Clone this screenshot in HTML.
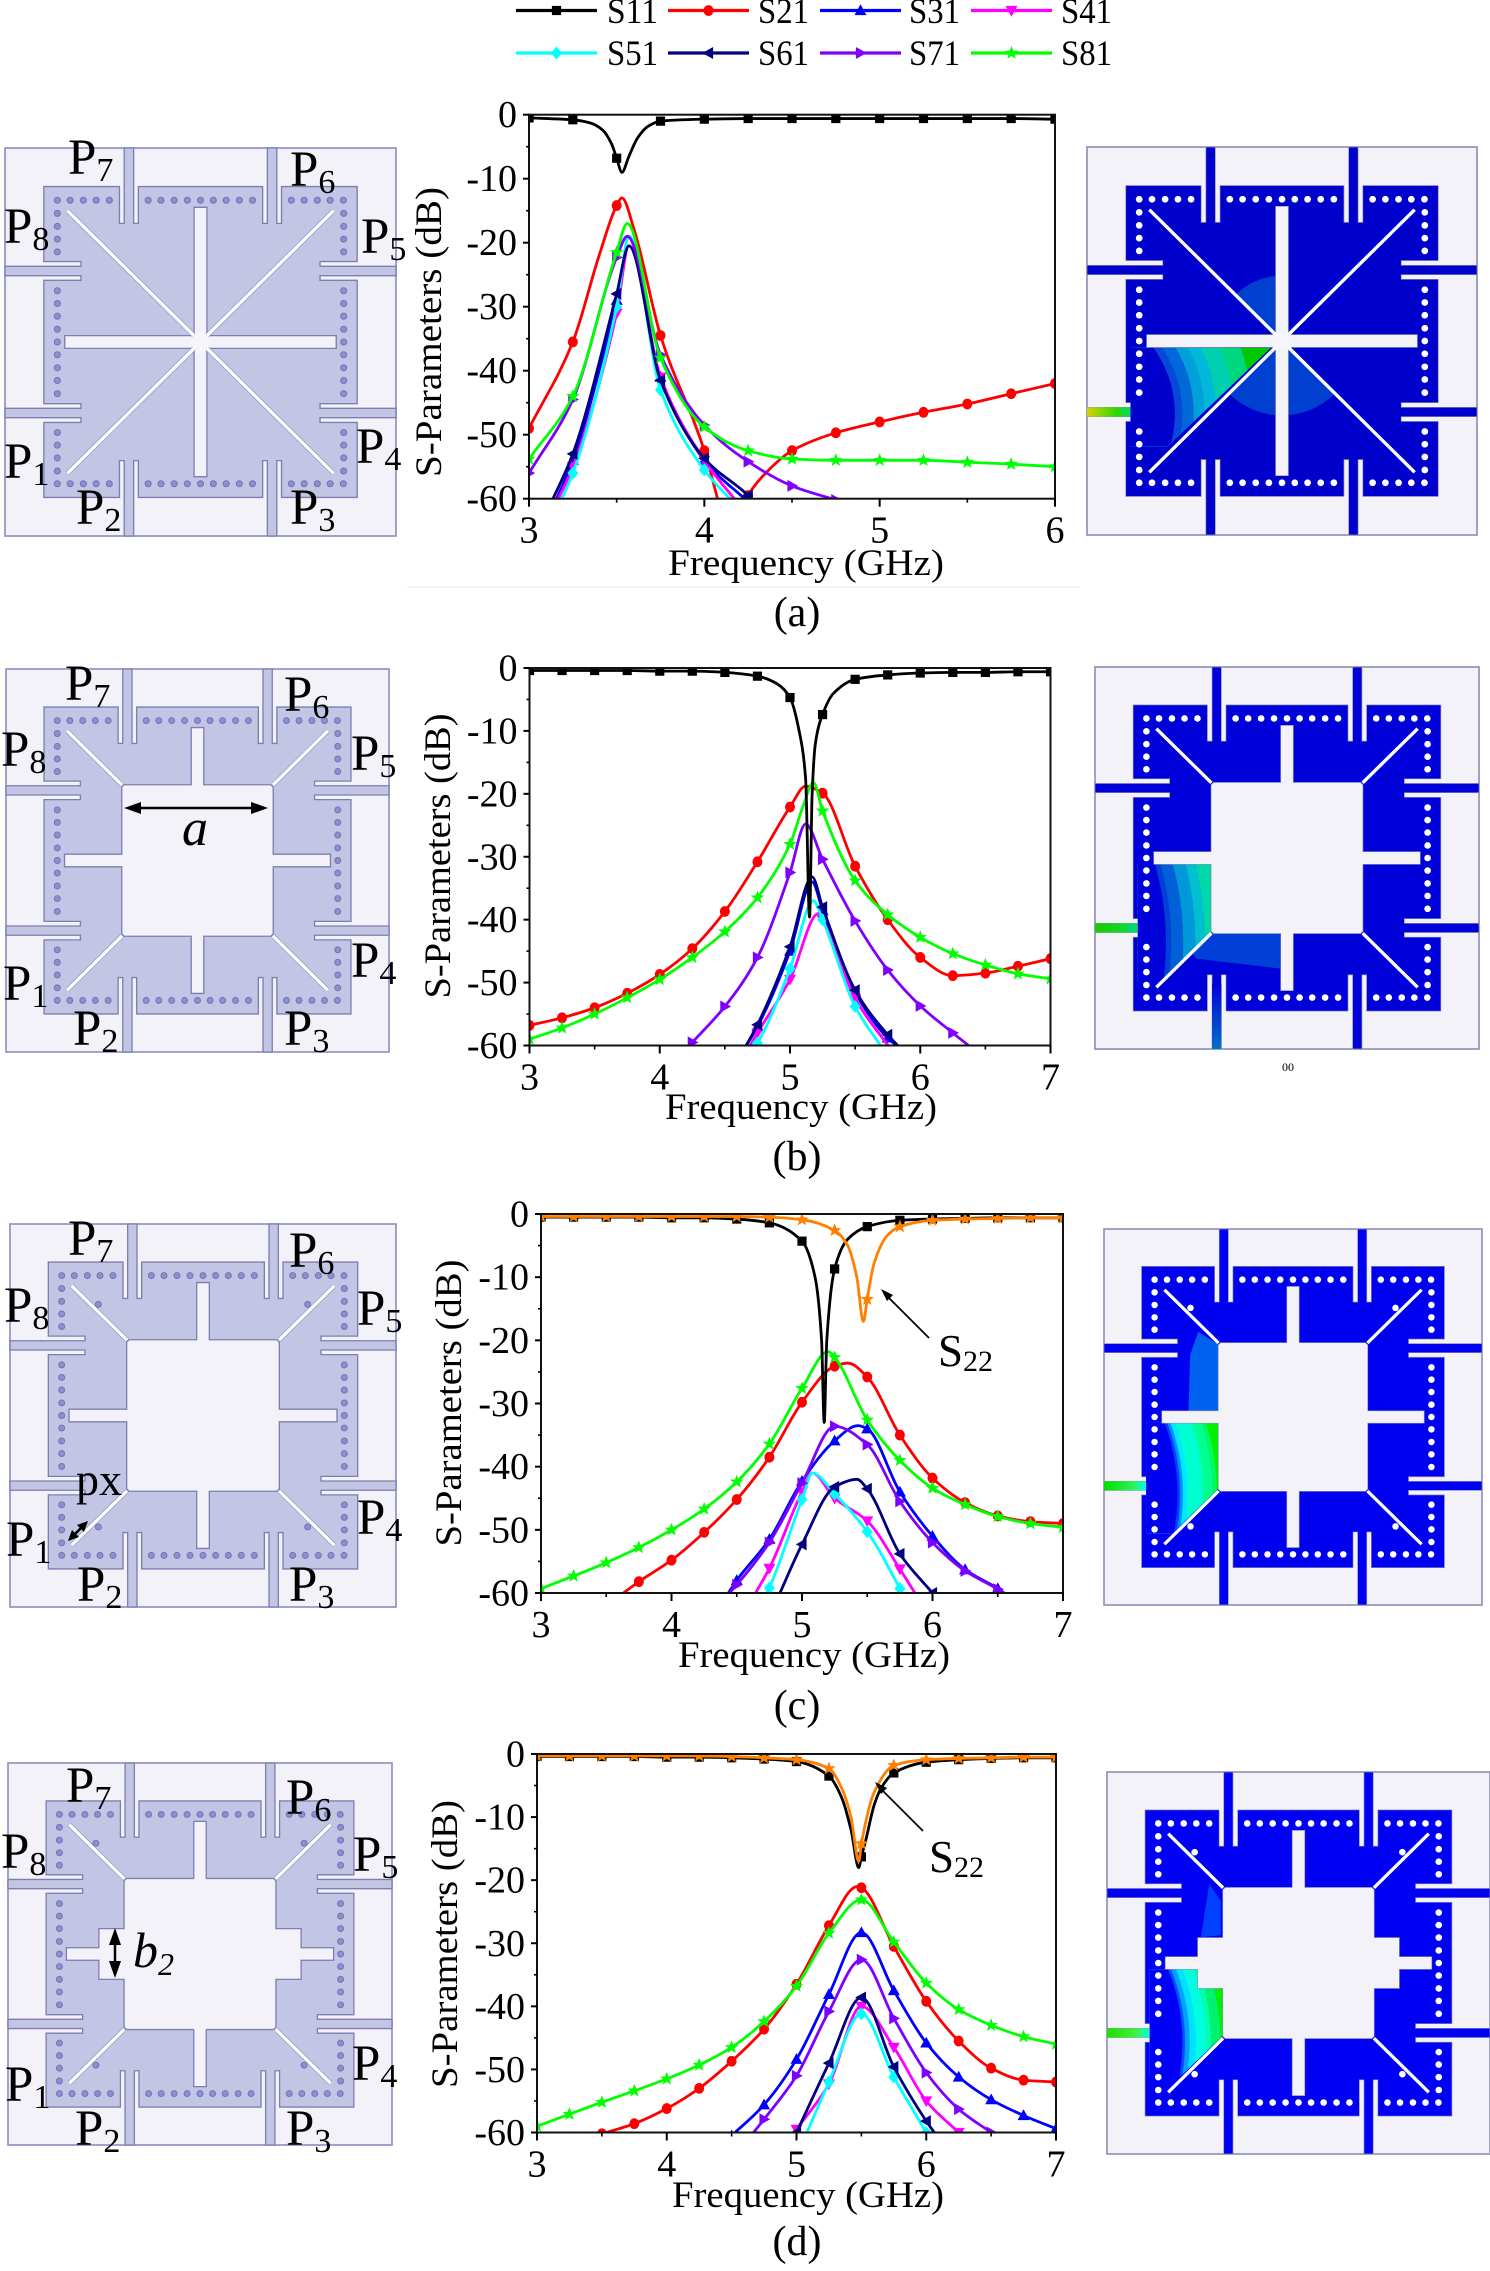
<!DOCTYPE html>
<html lang="en">
<head>
<meta charset="utf-8">
<title>Eight-port resonator designs and S-parameters</title>
<style>
html,body{margin:0;padding:0;background:#fff;width:1490px;height:2271px;overflow:hidden}
svg{display:block}
text{font-family:"Liberation Serif",serif;fill:#000}
</style>
</head>
<body>
<svg id="page" xmlns="http://www.w3.org/2000/svg" width="1490" height="2271" viewBox="0 0 1490 2271">
  <rect x="0" y="0" width="1490" height="2271" fill="#ffffff"/>
  <g id="diagrams"></g>
  <g id="charts"></g>
  <g id="legend">
    <text x="607" y="23" font-size="36" textLength="51" lengthAdjust="spacingAndGlyphs">S11</text>
    <text x="758" y="23" font-size="36" textLength="51" lengthAdjust="spacingAndGlyphs">S21</text>
    <text x="909" y="23" font-size="36" textLength="51" lengthAdjust="spacingAndGlyphs">S31</text>
    <text x="1061" y="23" font-size="36" textLength="51" lengthAdjust="spacingAndGlyphs">S41</text>
    <text x="607" y="65" font-size="36" textLength="51" lengthAdjust="spacingAndGlyphs">S51</text>
    <text x="758" y="65" font-size="36" textLength="51" lengthAdjust="spacingAndGlyphs">S61</text>
    <text x="909" y="65" font-size="36" textLength="51" lengthAdjust="spacingAndGlyphs">S71</text>
    <text x="1061" y="65" font-size="36" textLength="51" lengthAdjust="spacingAndGlyphs">S81</text>
  </g>

  <line x1="407" y1="587" x2="1079" y2="587" stroke="#eeeeee" stroke-width="1.5"/>

  <text x="797" y="626" font-size="42" text-anchor="middle">(a)</text>
  <text x="797" y="1170" font-size="42" text-anchor="middle">(b)</text>
  <text x="797" y="1719" font-size="42" text-anchor="middle">(c)</text>
  <text x="797" y="2255" font-size="42" text-anchor="middle">(d)</text>

  <text x="1288" y="1071" font-size="12" text-anchor="middle">00</text>

  <g>
    <line x1="135" y1="808" x2="258" y2="808" stroke="#000" stroke-width="2.5"/>
    <polygon points="124,808 141,802 141,814" fill="#000"/>
    <polygon points="268,808 251,802 251,814" fill="#000"/>
    <text x="182" y="845" font-size="52" font-style="italic">a</text>
  </g>
  <g>
    <line x1="72" y1="1537" x2="84" y2="1525" stroke="#000" stroke-width="2.5"/>
    <polygon points="68,1541 72,1530 79,1537" fill="#000"/>
    <polygon points="88,1521 84,1532 77,1525" fill="#000"/>
    <text x="76" y="1495" font-size="46">px</text>
  </g>
  <g>
    <line x1="115" y1="1940" x2="115" y2="1966" stroke="#000" stroke-width="2.5"/>
    <polygon points="115,1928 109,1945 121,1945" fill="#000"/>
    <polygon points="115,1978 109,1961 121,1961" fill="#000"/>
    <text x="133" y="1967" font-size="50" font-style="italic">b<tspan dy="8" font-size="32">2</tspan></text>
  </g>

  <g>
    <line x1="929" y1="1338" x2="886" y2="1295" stroke="#000" stroke-width="1.8"/>
    <polygon points="881,1289 893,1295 887,1301" fill="#000"/>
    <text x="938" y="1366" font-size="45">S<tspan dy="5" font-size="30">22</tspan></text>
  </g>
  <g>
    <line x1="923" y1="1831" x2="880" y2="1788" stroke="#000" stroke-width="1.8"/>
    <polygon points="875,1782 887,1788 881,1794" fill="#000"/>
    <text x="929" y="1872" font-size="45">S<tspan dy="5" font-size="30">22</tspan></text>
  </g>
</svg>

<script>
// ---------- Chart (a) data: frequency (GHz) and magnitude (dB) ----------
const aXTicks = [3, 4, 5, 6];
const aYTicks = [0, -10, -20, -30, -40, -50, -60];
const aS11F = [3, 3.25, 3.35, 3.42, 3.47, 3.5, 3.53, 3.57, 3.62, 3.68, 3.75, 4, 4.25, 4.5, 4.75, 5, 5.25, 5.5, 5.75, 6];
const aS11DB = [-0.5, -0.8, -1.3, -2.4, -4.5, -6.8, -9, -6.5, -3.6, -1.8, -1, -0.7, -0.6, -0.6, -0.6, -0.6, -0.6, -0.6, -0.6, -0.7];
const aS21F = [3, 3.25, 3.4, 3.5, 3.53, 3.6, 3.75, 4, 4.08, 4.15, 4.22, 4.25, 4.35, 4.5, 4.75, 5, 5.25, 5.5, 5.75, 6];
const aS21DB = [-49, -35.5, -22, -14.2, -13, -18, -34.5, -52.5, -60.5, -68, -61.5, -59.5, -56, -52.5, -49.7, -48, -46.5, -45.2, -43.6, -42];
const aS31F = [3.15, 3.25, 3.5, 3.57, 3.75, 4, 4.25];
const aS31DB = [-60.5, -54, -29, -20.5, -41, -54, -60.5];
const aS41F = [3.15, 3.25, 3.5, 3.57, 3.75, 4, 4.2];
const aS41DB = [-61, -55, -31, -20.5, -41, -54, -61];
const aS51F = [3.17, 3.25, 3.5, 3.57, 3.75, 4, 4.18];
const aS51DB = [-61, -56, -30, -19, -43, -55.5, -61];
const aS61F = [3.12, 3.25, 3.5, 3.57, 3.75, 4, 4.25, 4.3];
const aS61DB = [-61, -53, -28, -20.5, -41.5, -53.7, -59.5, -61];
const aS71F = [3, 3.25, 3.5, 3.56, 3.75, 4, 4.25, 4.5, 4.75];
const aS71DB = [-56, -44.5, -22.3, -19, -37.5, -48.5, -54.2, -58, -60.2];
const aS81F = [3, 3.25, 3.5, 3.56, 3.75, 4, 4.25, 4.5, 4.75, 5, 5.25, 5.5, 5.75, 6];
const aS81DB = [-53.8, -44, -21.5, -17, -38, -48.8, -52.5, -53.8, -54, -54, -54, -54.3, -54.6, -55];

// ---------- Chart (b) data ----------
const bXTicks = [3, 4, 5, 6, 7];
const bYTicks = [0, -10, -20, -30, -40, -50, -60];
const bS11F = [3, 3.25, 3.5, 3.75, 4, 4.25, 4.5, 4.75, 4.9, 5, 5.07, 5.12, 5.15, 5.17, 5.195, 5.25, 5.335, 5.5, 5.75, 6, 6.25, 6.5, 6.75, 7];
const bS11DB = [-0.4, -0.4, -0.4, -0.4, -0.5, -0.5, -0.7, -1.3, -2.5, -4.7, -10, -17.6, -39.6, -20, -12, -7.4, -4, -1.8, -1.1, -0.8, -0.7, -0.7, -0.6, -0.6];
const bS21F = [3, 3.25, 3.5, 3.75, 4, 4.25, 4.5, 4.75, 5, 5.12, 5.25, 5.5, 5.75, 6, 6.25, 6.5, 6.75, 7];
const bS21DB = [-56.8, -55.6, -54, -51.7, -48.7, -44.6, -38.7, -30.8, -22.1, -18.8, -19.9, -31.5, -40, -46, -48.9, -48.5, -47.4, -46.2];
const bS31F = [4.65, 4.75, 5, 5.17, 5.25, 5.5, 5.75, 5.85];
const bS31DB = [-60.5, -57, -45, -34, -38.5, -51.5, -58.8, -60.5];
const bS41F = [4.68, 4.75, 5, 5.22, 5.25, 5.5, 5.77];
const bS41DB = [-60.5, -58, -49.5, -39, -40, -52.5, -60.5];
const bS51F = [4.7, 4.75, 5, 5.18, 5.25, 5.5, 5.7];
const bS51DB = [-61, -59.6, -47.8, -37, -40, -53.8, -60.2];
const bS61F = [4.65, 4.75, 5, 5.17, 5.25, 5.5, 5.75, 5.85];
const bS61DB = [-60.5, -56.7, -44.3, -33.2, -38, -51.2, -58.3, -60.5];
const bS71F = [4.25, 4.5, 4.75, 5, 5.12, 5.25, 5.5, 5.75, 6, 6.25, 6.42];
const bS71DB = [-59.5, -53.8, -46, -32.5, -24.8, -30.4, -40.2, -48, -53.7, -58, -60.8];
const bS81F = [3, 3.25, 3.5, 3.75, 4, 4.25, 4.5, 4.75, 5, 5.1, 5.18, 5.25, 5.5, 5.75, 6, 6.25, 6.5, 6.75, 7];
const bS81DB = [-59, -57.2, -55, -52.4, -49.5, -46, -41.9, -36.5, -28, -22, -18.2, -22.7, -33.8, -39.2, -42.8, -45.4, -47.2, -48.6, -49.4];

// ---------- Chart (c) data ----------
const cXTicks = [3, 4, 5, 6, 7];
const cYTicks = [0, -10, -20, -30, -40, -50, -60];
const cS11F = [3, 3.25, 3.5, 3.75, 4, 4.25, 4.5, 4.75, 5, 5.1, 5.15, 5.17, 5.19, 5.25, 5.35, 5.5, 5.75, 6, 6.25, 6.5, 6.75, 7];
const cS11DB = [-0.5, -0.5, -0.5, -0.5, -0.6, -0.6, -0.8, -1.4, -4.3, -10, -20, -33, -20, -8.7, -4, -2, -1, -0.8, -0.7, -0.6, -0.6, -0.6];
const cS22F = [3, 3.25, 3.5, 3.75, 4, 4.25, 4.5, 4.75, 5, 5.25, 5.35, 5.42, 5.47, 5.5, 5.55, 5.65, 5.75, 6, 6.25, 6.5, 6.75, 7];
const cS22DB = [-0.4, -0.4, -0.4, -0.4, -0.4, -0.4, -0.4, -0.5, -0.9, -2.6, -5, -10, -17, -13.5, -8, -3.5, -2, -1, -0.8, -0.7, -0.6, -0.6];
const cS21F = [3.6, 3.75, 4, 4.25, 4.5, 4.75, 5, 5.25, 5.35, 5.5, 5.75, 6, 6.25, 6.5, 6.75, 7];
const cS21DB = [-60.5, -58.2, -54.8, -50.4, -45.2, -38.5, -29.8, -24.1, -23.6, -25.8, -35, -41.8, -45.7, -47.8, -48.7, -49];
const cS31F = [4.42, 4.5, 4.75, 5, 5.25, 5.43, 5.5, 5.75, 6, 6.25, 6.5, 6.6];
const cS31DB = [-60.5, -58, -51.5, -42.3, -35.9, -33.5, -34, -44, -51, -56.3, -59.3, -60.8];
const cS41F = [4.63, 4.75, 5, 5.08, 5.25, 5.5, 5.75, 5.88];
const cS41DB = [-60.5, -56.1, -44, -41, -45, -48.6, -56.2, -60.5];
const cS51F = [4.72, 4.75, 5, 5.08, 5.25, 5.5, 5.75, 5.78];
const cS51DB = [-60.5, -59.2, -45.2, -41, -44.3, -50.3, -59.3, -60.5];
const cS61F = [4.82, 5, 5.25, 5.42, 5.5, 5.75, 6, 6.02];
const cS61DB = [-60.5, -52.3, -43.2, -42, -43.5, -53.8, -60, -60.5];
const cS71F = [4.42, 4.5, 4.75, 5, 5.25, 5.5, 5.75, 6, 6.25, 6.5, 6.6];
const cS71DB = [-60.5, -58.7, -52, -42.6, -33.6, -36.5, -45.5, -52, -56.5, -59.4, -60.8];
const cS81F = [3, 3.25, 3.5, 3.75, 4, 4.25, 4.5, 4.75, 5, 5.2, 5.25, 5.5, 5.75, 6, 6.25, 6.5, 6.75, 7];
const cS81DB = [-59.3, -57.3, -55.2, -52.8, -50, -46.7, -42.4, -36.4, -27.6, -21.8, -22.7, -32.6, -39, -43.4, -46, -47.9, -49, -49.6];

// ---------- Chart (d) data ----------
const dXTicks = [3, 4, 5, 6, 7];
const dYTicks = [0, -10, -20, -30, -40, -50, -60];
const dS11F = [3, 3.25, 3.5, 3.75, 4, 4.25, 4.5, 4.75, 5, 5.25, 5.35, 5.42, 5.48, 5.5, 5.53, 5.6, 5.65, 5.75, 6, 6.25, 6.5, 6.75, 7];
const dS11DB = [-0.4, -0.4, -0.4, -0.4, -0.5, -0.5, -0.6, -0.8, -1.2, -3.5, -7, -12, -18, -16.3, -14, -8, -5.5, -3, -1.3, -0.9, -0.7, -0.6, -0.6];
const dS22F = [3, 3.25, 3.5, 3.75, 4, 4.25, 4.5, 4.75, 5, 5.25, 5.35, 5.42, 5.48, 5.5, 5.6, 5.75, 6, 6.25, 6.5, 6.75, 7];
const dS22DB = [-0.3, -0.3, -0.3, -0.3, -0.3, -0.3, -0.4, -0.6, -0.9, -2.3, -5.5, -10, -17, -14.2, -6, -1.8, -0.9, -0.7, -0.6, -0.5, -0.5];
const dS21F = [3.5, 3.75, 4, 4.25, 4.5, 4.75, 5, 5.25, 5.47, 5.5, 5.75, 6, 6.25, 6.5, 6.75, 7];
const dS21DB = [-60.2, -58.6, -56.2, -53, -48.7, -43.6, -36.5, -27.2, -21, -21.2, -30.5, -39.2, -45.5, -49.8, -51.7, -52];
const dS31F = [4.5, 4.75, 5, 5.25, 5.5, 5.75, 6, 6.25, 6.5, 6.75, 7];
const dS31DB = [-60.5, -55.6, -48.4, -38.1, -28.3, -37.5, -45.8, -51.2, -54.8, -57.3, -59.4];
const dS41F = [5, 5.25, 5.5, 5.75, 6, 6.25];
const dS41DB = [-59.5, -52.3, -40, -46.5, -55, -60];
const dS51F = [5.07, 5.25, 5.5, 5.75, 6];
const dS51DB = [-60.5, -52, -41.2, -51.2, -60];
const dS61F = [5, 5.25, 5.5, 5.75, 6, 6.08];
const dS61DB = [-60, -49, -38.6, -49.6, -58.2, -60.5];
const dS71F = [4.65, 4.75, 5, 5.25, 5.5, 5.75, 6, 6.25, 6.5];
const dS71DB = [-60.5, -57.9, -51, -40.8, -32.6, -41.9, -50.5, -56.3, -60];
const dS81F = [3, 3.25, 3.5, 3.75, 4, 4.25, 4.5, 4.75, 5, 5.25, 5.5, 5.75, 6, 6.25, 6.5, 6.75, 7];
const dS81DB = [-59, -57.1, -55.2, -53.4, -51.5, -49.3, -46.5, -42.4, -36.8, -28.4, -23.1, -29.8, -36.3, -40.5, -43, -44.8, -46];

const NS = 'http://www.w3.org/2000/svg';
function make(tag, parent, attrs) {
  const el = document.createElementNS(NS, tag);
  for (const k in attrs) el.setAttribute(k, attrs[k]);
  parent.appendChild(el);
  return el;
}

// ---------- Marker glyphs ----------
const markerPaths = {
  square: 'M-4.6,-4.6H4.6V4.6H-4.6Z',
  circle: 'M-5,0A5,5.4 0 1 1 5,0A5,5.4 0 1 1 -5,0Z',
  up: 'M0,-6.2L6,4.6H-6Z',
  down: 'M0,6.2L6,-4.6H-6Z',
  diamond: 'M0,-6.5L5.5,0L0,6.5L-5.5,0Z',
  left: 'M-6.2,0L4.6,-6V6Z',
  right: 'M6.2,0L-4.6,-6V6Z',
  star: 'M0,-7L1.9,-2.3L6.7,-2.2L2.9,0.9L4.2,5.7L0,3L-4.2,5.7L-2.9,0.9L-6.7,-2.2L-1.9,-2.3Z'
};
const seriesStyle = {
  S11: {color: '#000000', marker: 'square'},
  S21: {color: '#ff0000', marker: 'circle'},
  S31: {color: '#0000ff', marker: 'up'},
  S41: {color: '#ff00ff', marker: 'down'},
  S51: {color: '#00ffff', marker: 'diamond'},
  S61: {color: '#000080', marker: 'left'},
  S71: {color: '#8000ff', marker: 'right'},
  S81: {color: '#00ff00', marker: 'star'},
  S22: {color: '#ff8000', marker: 'star'}
};

// ---------- Chart definitions ----------
const charts = [
  {id: 'a', x: 529, y: 114.7, w: 526, h: 384, xMin: 3, xMax: 6, xTicks: aXTicks, yTicks: aYTicks,
   freqX: 806, freqBase: 575, freqLen: 276, titleX: 441, titleY: 332, titleLen: 290,
   series: [['S21', aS21F, aS21DB], ['S31', aS31F, aS31DB], ['S41', aS41F, aS41DB], ['S51', aS51F, aS51DB], ['S61', aS61F, aS61DB], ['S71', aS71F, aS71DB], ['S81', aS81F, aS81DB], ['S11', aS11F, aS11DB]]},
  {id: 'b', x: 529.5, y: 668, w: 521, h: 377.5, xMin: 3, xMax: 7, xTicks: bXTicks, yTicks: bYTicks,
   freqX: 801, freqBase: 1119, freqLen: 272, titleX: 450, titleY: 856, titleLen: 285,
   series: [['S21', bS21F, bS21DB], ['S31', bS31F, bS31DB], ['S41', bS41F, bS41DB], ['S51', bS51F, bS51DB], ['S61', bS61F, bS61DB], ['S71', bS71F, bS71DB], ['S81', bS81F, bS81DB], ['S11', bS11F, bS11DB]]},
  {id: 'c', x: 541, y: 1214, w: 522, h: 379, xMin: 3, xMax: 7, xTicks: cXTicks, yTicks: cYTicks,
   freqX: 814, freqBase: 1667, freqLen: 272, titleX: 461, titleY: 1403, titleLen: 287,
   series: [['S21', cS21F, cS21DB], ['S31', cS31F, cS31DB], ['S41', cS41F, cS41DB], ['S51', cS51F, cS51DB], ['S61', cS61F, cS61DB], ['S71', cS71F, cS71DB], ['S81', cS81F, cS81DB], ['S11', cS11F, cS11DB], ['S22', cS22F, cS22DB]]},
  {id: 'd', x: 537, y: 1754, w: 519, h: 378.5, xMin: 3, xMax: 7, xTicks: dXTicks, yTicks: dYTicks,
   freqX: 808, freqBase: 2207, freqLen: 272, titleX: 457, titleY: 1944, titleLen: 288,
   series: [['S21', dS21F, dS21DB], ['S31', dS31F, dS31DB], ['S41', dS41F, dS41DB], ['S51', dS51F, dS51DB], ['S61', dS61F, dS61DB], ['S71', dS71F, dS71DB], ['S81', dS81F, dS81DB], ['S11', dS11F, dS11DB], ['S22', dS22F, dS22DB]]}
];

// Monotone cubic path through the data points (no overshoot at resonances).
function monotonePath(xs, ys) {
  const n = xs.length;
  if (n < 2) return '';
  const dx = [], m = [], t = [];
  for (let i = 0; i < n - 1; i++) {
    dx.push(xs[i + 1] - xs[i]);
    m.push((ys[i + 1] - ys[i]) / dx[i]);
  }
  t.push(m[0]);
  for (let i = 1; i < n - 1; i++) {
    if (m[i - 1] * m[i] <= 0) t.push(0);
    else {
      const w1 = 2 * dx[i] + dx[i - 1], w2 = dx[i] + 2 * dx[i - 1];
      t.push((w1 + w2) / (w1 / m[i - 1] + w2 / m[i]));
    }
  }
  t.push(m[n - 2]);
  let d = 'M' + xs[0].toFixed(2) + ',' + ys[0].toFixed(2);
  for (let i = 0; i < n - 1; i++) {
    const h = dx[i] / 3;
    d += 'C' + (xs[i] + h).toFixed(2) + ',' + (ys[i] + t[i] * h).toFixed(2) + ' ' +
         (xs[i + 1] - h).toFixed(2) + ',' + (ys[i + 1] - t[i + 1] * h).toFixed(2) + ' ' +
         xs[i + 1].toFixed(2) + ',' + ys[i + 1].toFixed(2);
  }
  return d;
}

const svgRoot = document.getElementById('page');
const defs = make('defs', svgRoot, {});

function drawChart(c) {
  const xAxis = f => c.x + (f - c.xMin) / (c.xMax - c.xMin) * c.w;
  const yAxis = db => c.y + (db / -60) * c.h;

  const root = document.getElementById('charts');
  const g = make('g', root, {});
  
  

  const clip = make('clipPath', defs, {id: 'plot-clip-' + c.id});
  make('rect', clip, {x: c.x, y: c.y, width: c.w, height: c.h});

  // series
  c.series.forEach(s => {
    const key = s[0], fs = s[1], dbs = s[2], st = seriesStyle[key];
    const sg = make('g', g, {'clip-path': 'url(#plot-clip-' + c.id + ')'});
    
    
    const line = make('path', sg, {
      d: monotonePath(fs.map(xAxis), dbs.map(yAxis)),
      fill: 'none', stroke: st.color, 'stroke-width': 2.8, 'stroke-linejoin': 'round'
    });
    
    
    fs.forEach((f, i) => {
      if (Math.abs(f * 4 - Math.round(f * 4)) > 1e-6) return;
      const mk = make('path', sg, {
        d: markerPaths[st.marker], fill: st.color,
        transform: 'translate(' + xAxis(f).toFixed(2) + ',' + yAxis(dbs[i]).toFixed(2) + ')'
      });
      
      
    });
  });

  // frame
  const frame = make('rect', g, {x: c.x, y: c.y, width: c.w, height: c.h, fill: 'none', stroke: '#111', 'stroke-width': 2});
  
  

  // y axis
  c.yTicks.forEach((v, i) => {
    const y = yAxis(v);
    const tk = make('line', g, {x1: c.x - 6, x2: c.x, y1: y, y2: y, stroke: '#000', 'stroke-width': 2});
    
    
    const lb = make('text', g, {x: c.x - 12, y: y + 12.5, 'font-size': 38, 'text-anchor': 'end'});
    lb.textContent = String(v);
    
    
    if (i < c.yTicks.length - 1) {
      const my = yAxis((v + c.yTicks[i + 1]) / 2);
      const mt = make('line', g, {x1: c.x - 3, x2: c.x, y1: my, y2: my, stroke: '#000', 'stroke-width': 1.6});
      
      
    }
  });

  // x axis
  const by = c.y + c.h;
  c.xTicks.forEach((v, i) => {
    const x = xAxis(v);
    const tk = make('line', g, {x1: x, x2: x, y1: by, y2: by + 8, stroke: '#000', 'stroke-width': 2});
    
    
    const lb = make('text', g, {x: x, y: by + 44, 'font-size': 38, 'text-anchor': 'middle'});
    lb.textContent = String(v);
    
    
    if (i < c.xTicks.length - 1) {
      const mx = xAxis((v + c.xTicks[i + 1]) / 2);
      const mt = make('line', g, {x1: mx, x2: mx, y1: by, y2: by + 4, stroke: '#000', 'stroke-width': 1.6});
      
      
    }
  });

  // titles
  const xt = make('text', g, {x: c.freqX, y: c.freqBase, 'font-size': 37, 'text-anchor': 'middle', textLength: c.freqLen, lengthAdjust: 'spacingAndGlyphs'});
  xt.textContent = 'Frequency (GHz)';
  
  
  const yt = make('text', g, {
    x: 0, y: 0, 'font-size': 37, 'text-anchor': 'middle', textLength: c.titleLen, lengthAdjust: 'spacingAndGlyphs',
    transform: 'translate(' + c.titleX + ',' + c.titleY + ') rotate(-90)'
  });
  yt.textContent = 'S-Parameters (dB)';
  
  
}
charts.forEach(drawChart);

// ---------- Legend swatches ----------
const legendKeys = [['S11', 'S21', 'S31', 'S41'], ['S51', 'S61', 'S71', 'S81']];
const legendColumns = [516, 668, 820, 971];
const legendRows = [10.5, 53];
const legendGroup = document.getElementById('legend');
legendKeys.forEach((row, r) => row.forEach((key, k) => {
  const st = seriesStyle[key];
  const sw = make('g', legendGroup, {});
  
  
  make('line', sw, {x1: legendColumns[k], x2: legendColumns[k] + 81, y1: legendRows[r], y2: legendRows[r], stroke: st.color, 'stroke-width': 3.2});
  make('path', sw, {d: markerPaths[st.marker], fill: st.color, transform: 'translate(' + (legendColumns[k] + 40.5) + ',' + legendRows[r] + ')'});
}));

// ---------- Resonator diagrams (unit system: frame half-size = 579) ----------
function rot(k, p) {
  let x = p[0], y = p[1];
  for (let i = 0; i < k; i++) { const nx = -y, ny = x; x = nx; y = ny; }
  return [x, y];
}
function patchPath() {
  const side = [[-464, -464]];
  [-212, 212].forEach(o => {
    side.push([o - 28, -464], [o - 28, -354], [o - 14, -354], [o - 14, -579], [o + 14, -579], [o + 14, -354], [o + 28, -354], [o + 28, -464]);
  });
  let d = '';
  for (let k = 0; k < 4; k++) side.forEach(p => { const q = rot(k, p); d += (d ? 'L' : 'M') + q[0] + ',' + q[1]; });
  return d + 'Z';
}
const sidePlain = [[-222, -229], [-19, -229], [-19, -402], [19, -402], [19, -229], [222, -229]];
const sideStep = [[-222, -229], [-77, -229], [-77, -305], [-19, -305], [-19, -403], [19, -403], [19, -305], [77, -305], [77, -229], [222, -229]];
const sideCross = [[-19, -402], [19, -402], [19, -19]];
function holePath(kind) {
  let d = '';
  for (let k = 0; k < 4; k++) {
    const side = kind === 'cross' ? sideCross : (kind === 'step' && k % 2 === 1 ? sideStep : sidePlain);
    side.forEach(p => { const q = rot(k, p); d += (d ? 'L' : 'M') + q[0] + ',' + q[1]; });
  }
  return d + 'Z';
}
const viaTop = [-424, -386, -347, -309, -270, -155, -117, -78, -39, 0, 38, 76, 115, 154, 269, 307, 346, 384, 423];
const viaSide = [-384, -345, -307, -269, -153, -115, -77, -38, 0, 38, 77, 115, 154, 270, 308, 346, 385];

const diagramSpecs = [
  {id: 'a', kind: 'cross', extra: false,
   left: [5, 148, 391, 388], right: [1087, 147, 390, 388], patchColor: '#0000cd',
   ports: [[-1, 330], [71, 376], [285, 376], [351, 315], [356, 105], [285, 38], [63, 26], [-1, 95]],
   feed: ['#d8d000', '#30d800', '#00d880', '#00b8d8', '#0000cd'],
   region: [[-450, 20], [-32, 20], [-340, 314], [-450, 314]], center: [-655, 218], inner: 337,
   bands: [[567, '#00d880'], [511, '#00d0b0'], [460, '#00b8d8'], [425, '#00a0d8'], [393, '#0068d8'], [359, '#0848d8']],
   base: '#00c800', soft: [{poly: [[0, 0], [-250, -250], [-19, -250], [-19, 0]], r: 195, c: '#0040d0'}, {poly: [[0, 0], [-250, 250], [250, 250]], r: 222, c: '#0040d0'}]},
  {id: 'b', kind: 'plain', extra: false,
   left: [6, 669, 383, 383], right: [1095, 667, 384, 382], patchColor: '#0000d8',
   ports: [[-3, 331], [67, 376], [278, 376], [345, 308], [345, 101], [278, 42], [59, 31], [-5, 97]],
   feed: ['#20c800', '#10d830', '#00d8a0', '#00b0e0', '#0000d8'],
   region: [[-450, 18], [-228, 18], [-228, 226], [-391, 391], [-450, 391]], center: [-1235, 256], inner: 870,
   bands: [[1027, '#00d8a8'], [988, '#00c0d0'], [959, '#0098d8'], [922, '#0060d8'], [886, '#0040d8']],
   base: '#00d870', soft: [{poly: [[-224, 228], [-21, 228], [-21, 335], [-275, 305], [-290, 280]], r: 0, c: '#0040d8'}], bottomFeed: '#0070c8'},
  {id: 'c', kind: 'plain', extra: true,
   left: [10, 1224, 386, 383], right: [1104, 1229, 378, 376], patchColor: '#0000f0',
   ports: [[-4, 332], [67, 377], [279, 377], [347, 310], [347, 101], [279, 43], [58, 31], [-6, 98]],
   feed: ['#00e000', '#30f050', '#00ffff', '#0060ff', '#0000f0'],
   region: [[-450, 18], [-226, 18], [-226, 218], [-370, 358], [-450, 358]], center: [-984, 238], inner: 630,
   bands: [[751, '#00f860'], [737, '#00ff90'], [709, '#00ffd0'], [661, '#00e8ff'], [647, '#0090ff'], [638, '#0040ff']],
   base: '#00f000', soft: [{poly: [[-315, -192], [-290, -262], [-226, -222], [-226, -20], [-320, -20]], r: 0, c: '#0060f0'}]},
  {id: 'd', kind: 'step', extra: true,
   left: [8, 1763, 384, 382], right: [1107, 1772, 383, 382], patchColor: '#0000f5',
   ports: [[-3, 338], [67, 382], [278, 382], [344, 317], [345, 108], [278, 51], [58, 39], [-7, 105]],
   feed: ['#20e000', '#40f040', '#00ffff', '#0060ff', '#0000f5'],
   region: [[-450, 19], [-305, 19], [-305, 76], [-229, 76], [-229, 221], [-355, 341], [-450, 341]], center: [-946, 241], inner: 595,
   bands: [[710, '#00f070'], [681, '#00ffb0'], [665, '#00ffe0'], [636, '#00e0ff'], [617, '#00a0ff'], [603, '#0050ff']],
   base: '#00f000', soft: [{poly: [[-270, -239], [-235, -189], [-235, -84], [-295, -79]], r: 0, c: '#0040ff'}]}
];

function polyPoints(list) { return list.map(p => p.join(',')).join(' '); }

function drawDiagram(spec, isField) {
  const box = isField ? spec.right : spec.left;
  const root = document.getElementById('diagrams');
  const outer = make('g', root, {transform: 'translate(' + (box[0] + box[2] / 2) + ',' + (box[1] + box[3] / 2) + ') scale(' + (box[2] / 1158) + ',' + (box[3] / 1158) + ')'});
  
  

  const frame = make('rect', outer, {x: -579, y: -579, width: 1158, height: 1158, fill: '#f2f2f8', stroke: isField ? '#8f90b8' : '#8f90c4', 'stroke-width': 5});
  
  

  const patchFill = isField ? spec.patchColor : '#c3c5e4';
  const patch = make('path', outer, {d: patchPath(), fill: patchFill, stroke: isField ? '#8f90b8' : '#7e7eb4', 'stroke-width': isField ? 2 : 4});
  
  

  if (isField) {
    const fg = make('linearGradient', defs, {id: 'feed-grad-' + spec.id, gradientUnits: 'userSpaceOnUse', x1: -579, y1: 0, x2: -362, y2: 0});
    [0, 0.4, 0.62, 0.72, 0.88].forEach((o, i) => make('stop', fg, {offset: o, 'stop-color': spec.feed[i]}));
    const feedRect = make('rect', outer, {x: -579, y: 198, width: 217, height: 28, fill: 'url(#feed-grad-' + spec.id + ')'});
    
    

    if (spec.bottomFeed) {
      const bg = make('linearGradient', defs, {id: 'bottom-feed-' + spec.id, gradientUnits: 'userSpaceOnUse', x1: 0, y1: 380, x2: 0, y2: 579});
      make('stop', bg, {offset: 0, 'stop-color': spec.patchColor});
      make('stop', bg, {offset: 1, 'stop-color': spec.bottomFeed});
      const bf = make('rect', outer, {x: -226, y: 380, width: 28, height: 199, fill: 'url(#bottom-feed-' + spec.id + ')'});
      
      
    }

    spec.soft.forEach((s, i) => {
      if (s.r) {
        const cp = make('clipPath', defs, {id: 'soft-' + spec.id + i});
        make('polygon', cp, {points: polyPoints(s.poly)});
        const blob = make('circle', outer, {cx: 0, cy: 0, r: s.r, fill: s.c, 'clip-path': 'url(#soft-' + spec.id + i + ')'});
        
        
      } else {
        const blob = make('polygon', outer, {points: polyPoints(s.poly), fill: s.c});
        
        
      }
    });

    const cp = make('clipPath', defs, {id: 'region-' + spec.id});
    make('polygon', cp, {points: polyPoints(spec.region)});
    const fieldGroup = make('g', outer, {'clip-path': 'url(#region-' + spec.id + ')'});
    
    
    make('polygon', fieldGroup, {points: polyPoints(spec.region), fill: spec.base});
    spec.bands.forEach(b => make('circle', fieldGroup, {cx: spec.center[0], cy: spec.center[1], r: b[0], fill: b[1]}));
    make('circle', fieldGroup, {cx: spec.center[0], cy: spec.center[1], r: spec.inner, fill: spec.patchColor});
  }

  const hole = make('path', outer, {d: holePath(spec.kind), fill: '#f2f2f8', stroke: isField ? '#8f90b8' : '#7e7eb4', 'stroke-width': isField ? 2 : 4});
  
  

  // diagonal slots
  const inner = spec.kind === 'cross' ? 0 : 228;
  [[-1, -1], [1, -1], [1, 1], [-1, 1]].forEach(s => {
    if (!isField) make('line', outer, {x1: s[0] * 394, y1: s[1] * 392, x2: s[0] * inner, y2: s[1] * inner, stroke: '#8f90c4', 'stroke-width': 14});
    const slot = make('line', outer, {x1: s[0] * 394, y1: s[1] * 392, x2: s[0] * inner, y2: s[1] * inner, stroke: '#ffffff', 'stroke-width': 10});
    
    
  });
  if (spec.kind === 'cross') {
    const hub = make('circle', outer, {cx: 0, cy: 0, r: 28, fill: '#f6f6fa'});
    
    
  }

  // vias
  const viaFill = isField ? '#ffffff' : '#8f8fd0';
  const addVia = (x, y) => {
    const via = make('circle', outer, {cx: x, cy: y, r: isField ? 10 : 9, fill: viaFill});
    if (!isField) { via.setAttribute('stroke', '#7272b8'); via.setAttribute('stroke-width', 3); }
    
    
  };
  viaTop.forEach(v => { addVia(v, -423); addVia(v, 423); });
  viaSide.forEach(v => { addVia(-424, v); addVia(424, v); });
  if (spec.extra) [[-314, -336], [314, -336], [-314, 337], [314, 337]].forEach(p => addVia(p[0], p[1]));

  if (!isField) {
    const portNames = ['1', '2', '3', '4', '5', '6', '7', '8'];
    spec.ports.forEach((p, i) => {
      const t = make('text', root, {x: box[0] + p[0], y: box[1] + p[1], 'font-size': 51});
      
      
      t.textContent = 'P';
      const sub = make('tspan', t, {dy: 7, dx: 0, 'font-size': 34});
      sub.textContent = portNames[i];
    });
  }
}
diagramSpecs.forEach(s => { drawDiagram(s, false); drawDiagram(s, true); });
</script>
</body>
</html>
